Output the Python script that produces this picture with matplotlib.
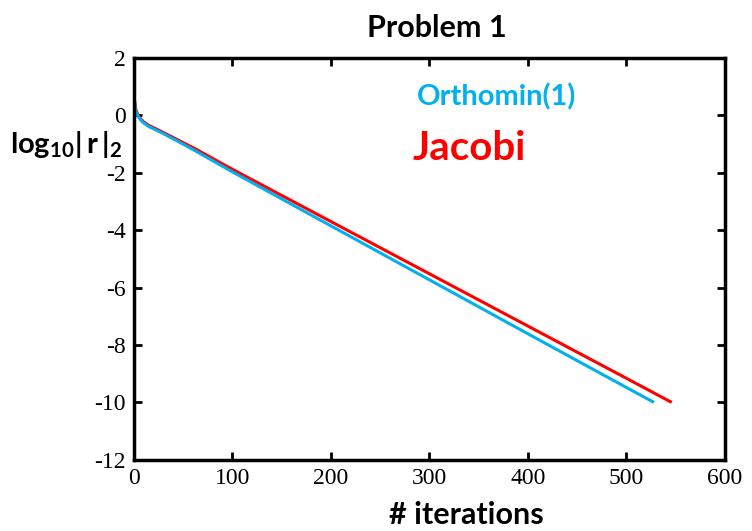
import matplotlib
matplotlib.use("Agg")
import matplotlib.pyplot as plt

# knot points
jac_it = [0, 2, 4, 7, 10, 15, 20, 30, 46, 63, 100, 200, 300, 400, 500, 546]
jac_res = [0.65, 0.2, 0.02, -0.13, -0.23, -0.35, -0.43, -0.60, -0.88, -1.18, -1.88, -3.70, -5.52, -7.34, -9.16, -10.0]

orth_it = [0, 2, 4, 7, 10, 15, 20, 30, 46, 63, 100, 200, 300, 400, 500, 528]
orth_res = [0.72, 0.15, -0.02, -0.17, -0.27, -0.39, -0.47, -0.64, -0.93, -1.25, -1.97, -3.85, -5.73, -7.61, -9.48, -10.0]

xticks = [0, 100, 200, 300, 400, 500, 600]
yticks = [2, 0, -2, -4, -6, -8, -10, -12]

plt.rcParams['axes.unicode_minus'] = False
plt.rcParams['mathtext.fontset'] = 'custom'
plt.rcParams['mathtext.bf'] = 'Lato:bold'
plt.rcParams['mathtext.rm'] = 'Lato:bold'

blue = '#00B0F0'
red = '#FF0000'

fig = plt.figure(figsize=(7.52, 5.31), dpi=100)
ax = fig.add_axes([0.178, 0.134, 0.786, 0.757])

ax.plot(jac_it, jac_res, color=red, lw=2.2, solid_capstyle='butt')
ax.plot(orth_it, orth_res, color=blue, lw=2.2, solid_capstyle='butt')

ax.set_xlim(0, 600)
ax.set_ylim(-12, 2)
ax.set_xticks(xticks)
ax.set_yticks(yticks)
ax.tick_params(direction='in', length=6, width=2, top=True, right=True,
               labelsize=17, pad=6)
for lab in ax.get_xticklabels() + ax.get_yticklabels():
    lab.set_family('Liberation Serif')
for sp in ax.spines.values():
    sp.set_linewidth(2.5)

fig.text(0.581, 0.947, 'Problem 1', fontsize=22, fontweight='bold', family='Lato',
         ha='center', va='center')
fig.text(0.62, 0.03, '# iterations', fontsize=22, fontweight='bold', family='Lato',
         ha='center', va='center')
fig.text(0.013, 0.727, r'$\mathbf{log_{10}|\,r\,|_{2}}$', fontsize=21, ha='left', va='center')

ax.text(0.478, 0.903, 'Orthomin(1)', color=blue, fontsize=21, fontweight='bold',
        family='Lato', transform=ax.transAxes, va='center')
ax.text(0.472, 0.775, 'Jacobi', color=red, fontsize=29, fontweight='bold',
        family='Lato', transform=ax.transAxes, va='center')

fig.savefig('out.png', dpi=100)
